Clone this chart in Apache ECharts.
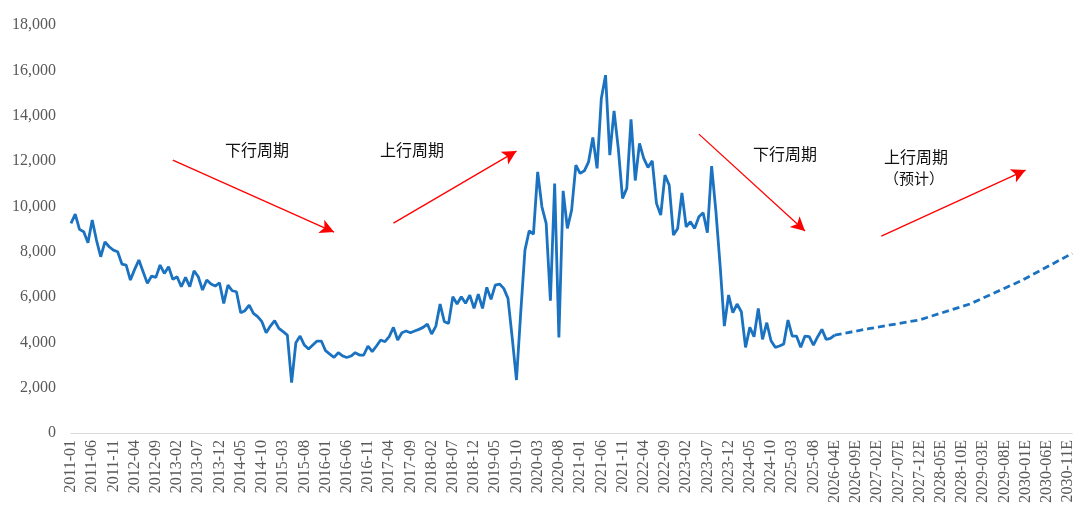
<!DOCTYPE html>
<html>
<head>
<meta charset="utf-8">
<script src="https://cdn.jsdelivr.net/npm/echarts@6/dist/echarts.min.js"></script>
<style>
html,body{margin:0;padding:0;background:#fff;}
#chart{width:1076px;height:507px;}
</style>
</head>
<body>
<div id="chart"></div>
<script>
// ---- Data ----
// Actual monthly values, 2011-01 onward (last value joins the forecast at 2026-04E)
var actualValues = [
  9248, 9658, 8983, 8877, 8392, 9393, 8511, 7775, 8436, 8216, 8070, 7995,
  7453, 7409, 6747, 7219, 7629, 7113, 6601, 6924, 6866, 7409, 7042, 7334,
  6778, 6893, 6452, 6866, 6452, 7157, 6893, 6306, 6747, 6571, 6483, 6628,
  5720, 6527, 6276, 6232, 5307, 5395, 5645, 5278, 5131, 4910, 4425, 4720,
  4954, 4616, 4469, 4322, 2218, 3982, 4278, 3881, 3704, 3881, 4057, 4057,
  3630, 3484, 3338, 3543, 3400, 3330, 3396, 3543, 3440, 3440, 3837, 3587,
  3837, 4101, 4028, 4249, 4660, 4101, 4425, 4498, 4425, 4498, 4572, 4660,
  4807, 4366, 4719, 5689, 4910, 4837, 6012, 5689, 6012, 5720, 6086, 5498,
  6130, 5498, 6424, 5896, 6527, 6571, 6381, 5940, 4200, 2337, 5300, 8070,
  8921, 8776, 11523, 9980, 9248, 5834, 11009, 4220, 10685, 9027, 9834, 11819,
  11452, 11567, 11964, 13040, 11673, 14760, 15788, 12260, 14213, 12555, 10350, 10791,
  13834, 11140, 12775, 12114, 11717, 12008, 10130, 9614, 11378, 10937, 8732, 9027,
  10597, 9100, 9319, 9027, 9539, 9715, 8833, 11775, 9800, 7400, 4719, 6086,
  5307, 5689, 5351, 3779, 4660, 4249, 5498, 4131, 4866, 4072, 3779, 3837,
  3925, 4983, 4278, 4278, 3779, 4278, 4249, 3881, 4249, 4572, 4131, 4175,
  4322
];
// Forecast key points
var forecastLabels = ['2026-04E', '2026-12E', '2027-12E', '2028-12E', '2029-12E', '2030-12E'];
var forecastValues = [4322, 4600, 4990, 5700, 6720, 7925];

// Y-axis ticks
var yMin = 0, yMax = 18000, yStep = 2000;

// Annotation texts
var cycleTexts = ['下行周期', '上行周期', '下行周期', '上行周期', '（预计）'];

// ---- Categories ----
var categories = [];
for (var y = 2011; y <= 2025; y++) {
  for (var m = 1; m <= 12; m++) categories.push(y + '-' + (m < 10 ? '0' + m : m));
}
for (var y2 = 2026; y2 <= 2030; y2++) {
  for (var m2 = (y2 === 2026 ? 4 : 1); m2 <= 12; m2++) categories.push(y2 + '-' + (m2 < 10 ? '0' + m2 : m2) + 'E');
}

var actualData = categories.map(function (c, i) { return i < actualValues.length ? actualValues[i] : null; });
var forecastData = categories.map(function (c) {
  var k = forecastLabels.indexOf(c);
  return k >= 0 ? forecastValues[k] : null;
});

var chart = echarts.init(document.getElementById('chart'), null, {renderer: 'canvas'});
var serif = '"Liberation Serif", "Times New Roman", serif';
var cjk = '"Noto Sans CJK SC", sans-serif';
var red = '#ff0000';
function arrow(a, b) { return [{coord: a}, {coord: b}]; }

chart.setOption({
  animation: false,
  backgroundColor: '#ffffff',
  grid: {left: 71, right: 0, top: 25, bottom: 74, containLabel: false},
  xAxis: {
    type: 'category',
    data: categories,
    boundaryGap: false,
    axisLine: {show: true, lineStyle: {color: '#d9d9d9', width: 1}},
    axisTick: {show: false},
    splitLine: {show: false},
    axisLabel: {
      interval: 4, rotate: 90, margin: 7,
      fontFamily: serif, fontSize: 16, color: '#595959'
    }
  },
  yAxis: {
    type: 'value',
    min: yMin, max: yMax, interval: yStep,
    axisLine: {show: false},
    axisTick: {show: false},
    splitLine: {show: false},
    axisLabel: {
      margin: 15, fontFamily: serif, fontSize: 16, color: '#595959',
      formatter: function (v) { return v.toLocaleString('en-US'); }
    }
  },
  series: [
    {
      name: 'actual', type: 'line', data: actualData,
      showSymbol: false, symbol: 'none',
      lineStyle: {color: '#1a72c0', width: 2.8},
      z: 3,
      markLine: {
        silent: true, animation: false,
        symbol: ['none', 'arrow'], symbolSize: [11, 14],
        label: {show: false},
        lineStyle: {color: red, width: 1.3, type: 'solid'},
        emphasis: {disabled: true},
        data: [
          arrow([24, 12040], [62, 8864]),
          arrow([76, 9261], [105, 12436]),
          arrow([148, 13186], [173, 8908]),
          arrow([191, 8688], [225, 11598])
        ]
      }
    },
    {
      name: 'forecast', type: 'line', data: forecastData,
      connectNulls: true, showSymbol: false, symbol: 'none',
      lineStyle: {color: '#1a72c0', width: 2.8, type: [7, 4]},
      z: 3
    }
  ],
  graphic: [
    {type: 'text', left: 225, top: 142, style: {text: cycleTexts[0], font: '16px ' + cjk, fill: '#111'}},
    {type: 'text', left: 380, top: 142, style: {text: cycleTexts[1], font: '16px ' + cjk, fill: '#111'}},
    {type: 'text', left: 753, top: 146, style: {text: cycleTexts[2], font: '16px ' + cjk, fill: '#111'}},
    {type: 'text', left: 884, top: 149, style: {text: cycleTexts[3], font: '16px ' + cjk, fill: '#111'}},
    {type: 'text', left: 884, top: 171, style: {text: cycleTexts[4], font: '15px ' + cjk, fill: '#111'}}
  ]
});
</script>
</body>
</html>
